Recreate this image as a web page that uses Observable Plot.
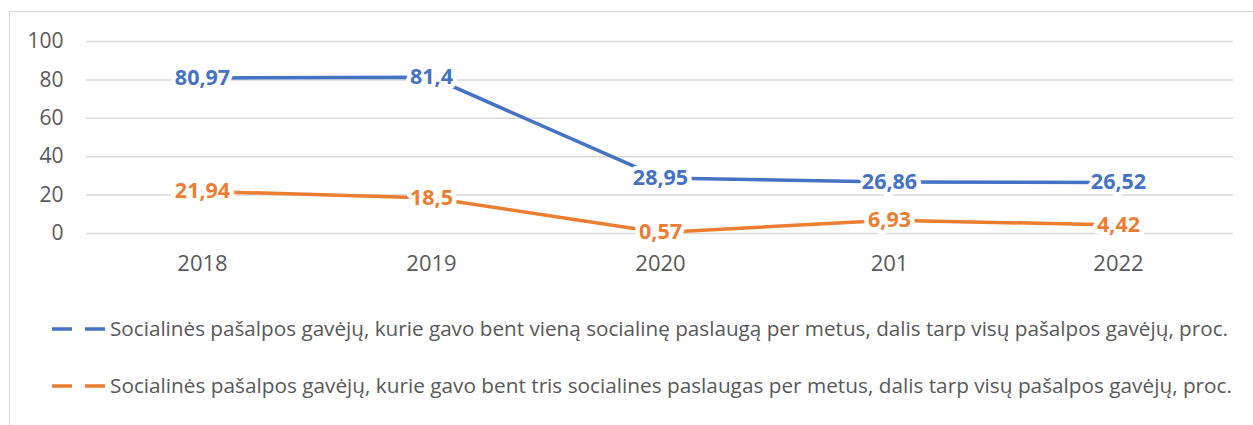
<!DOCTYPE html>
<html>
<head>
<meta charset="utf-8">
<script src="https://cdn.jsdelivr.net/npm/d3@7"></script>
<script src="https://cdn.jsdelivr.net/npm/@observablehq/plot@0.6"></script>
<style>
  html, body { margin: 0; padding: 0; background: #fff; overflow: hidden; width: 1253px; height: 425px; }
  #frame { position: absolute; left: 9px; top: 11px; width: 1300px; height: 500px; border: 1.5px solid #d9d9d9; box-sizing: border-box; }
  #chart { position: absolute; left: 0; top: 0; }
  #legend { position: absolute; left: 0; top: 300px; }
</style>
</head>
<body>
<div id="frame"></div>
<div id="chart"></div>
<div id="legend"></div>
<script>
const years = ["2018", "2019", "2020", "201", "2022"];
const seriesNames = [
  "Socialinės pašalpos gavėjų, kurie gavo bent vieną socialinę paslaugą per metus, dalis tarp visų pašalpos gavėjų, proc.",
  "Socialinės pašalpos gavėjų, kurie gavo bent tris socialines paslaugas per metus, dalis tarp visų pašalpos gavėjų, proc."
];
const seriesOne = [80.97, 81.4, 28.95, 26.86, 26.52];
const seriesThree = [21.94, 18.5, 0.57, 6.93, 4.42];
const yTicks = [0, 20, 40, 60, 80, 100];
const colors = ["#4472C4", "#ED7D31"];

const data = [];
[seriesOne, seriesThree].forEach((vals, si) => {
  vals.forEach((v, i) => data.push({ year: years[i], value: v, series: seriesNames[si] }));
});
const fmt = v => String(v).replace(".", ",");
const font = "'Open Sans', sans-serif";

const plot = Plot.plot({
  width: 1253,
  height: 300,
  marginTop: 41,
  marginBottom: 67,
  marginLeft: 86,
  marginRight: 20,
  style: { fontFamily: font, color: "#595959", background: "transparent" },
  x: { domain: years, type: "point", padding: 0.5, label: null },
  y: { domain: [0, 100], label: null },
  color: { domain: seriesNames, range: colors },
  marks: [
    Plot.gridY(yTicks, { stroke: "#d9d9d9", strokeOpacity: 1, strokeWidth: 1.5 }),
    Plot.axisY(yTicks, { tickSize: 0, tickPadding: 23, fontSize: 21, fill: "#595959" }),
    Plot.axisX({ tickSize: 0, tickPadding: 22, fontSize: 22, fill: "#595959" }),
    Plot.line(data, { x: "year", y: "value", z: "series", stroke: "series", strokeWidth: 3.5 }),
    Plot.text(data, {
      x: "year", y: "value", text: d => fmt(d.value), fill: "series",
      stroke: "white", strokeWidth: 9, fontWeight: "bold", fontSize: 21.5, fontFamily: font
    })
  ]
});
document.getElementById("chart").appendChild(plot);

// legend
const ns = "http://www.w3.org/2000/svg";
const lg = document.createElementNS(ns, "svg");
lg.setAttribute("width", 1253);
lg.setAttribute("height", 125);
const rowY = [29, 86];
const lens = [1118, 1122];
seriesNames.forEach((name, i) => {
  const ln = document.createElementNS(ns, "line");
  ln.setAttribute("x1", 52); ln.setAttribute("x2", 106);
  ln.setAttribute("y1", rowY[i]); ln.setAttribute("y2", rowY[i]);
  ln.setAttribute("stroke", colors[i]);
  ln.setAttribute("stroke-width", 3.5);
  ln.setAttribute("stroke-dasharray", "20 13");
  lg.appendChild(ln);
  const t = document.createElementNS(ns, "text");
  t.setAttribute("x", 110);
  t.setAttribute("y", rowY[i]);
  t.setAttribute("dy", "0.35em");
  t.setAttribute("fill", "#595959");
  t.setAttribute("font-family", font);
  t.setAttribute("font-size", 20);
  t.setAttribute("textLength", lens[i]);
  t.setAttribute("lengthAdjust", "spacingAndGlyphs");
  t.textContent = name;
  lg.appendChild(t);
});
document.getElementById("legend").appendChild(lg);
</script>
</body>
</html>
